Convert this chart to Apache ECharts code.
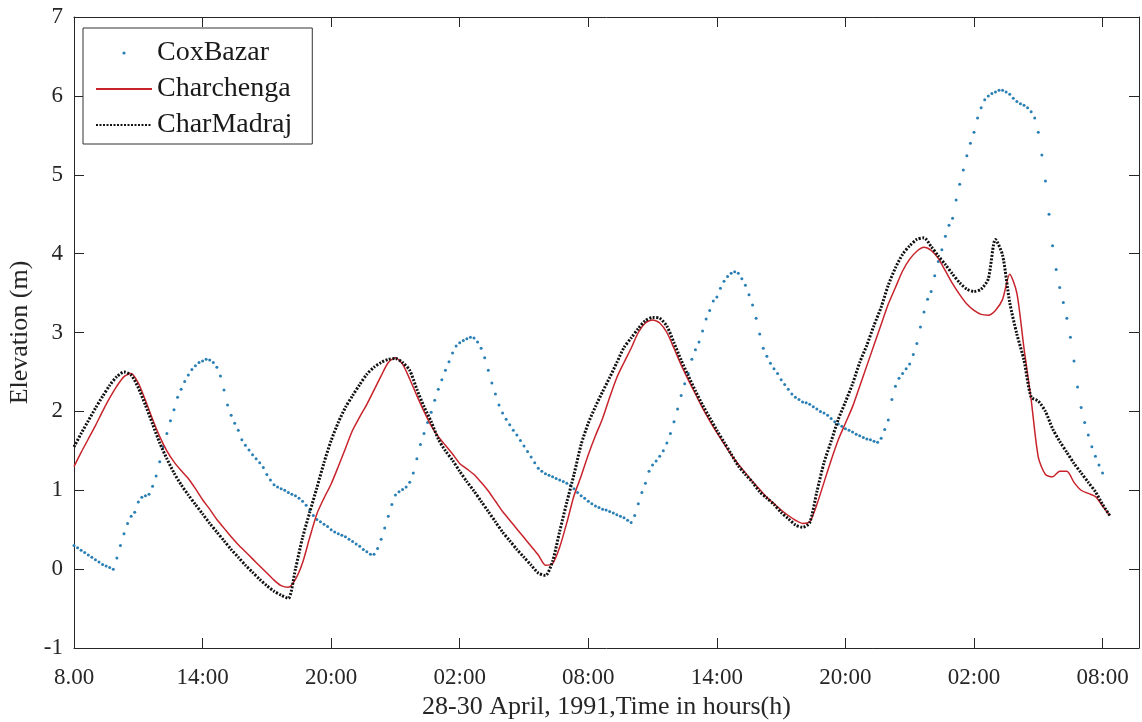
<!DOCTYPE html>
<html>
<head>
<meta charset="utf-8">
<script src="https://cdn.jsdelivr.net/npm/echarts@6/dist/echarts.min.js"></script>
<style>
  html, body { margin: 0; padding: 0; background: #fff; }
  #chart { width: 1142px; height: 722px; }
</style>
</head>
<body>
<div id="chart"></div>
<script>
// hours since 08:00, 28 April 1991
const tickLabels = ['8.00', '14:00', '20:00', '02:00', '08:00', '14:00', '20:00', '02:00', '08:00']

// CoxBazar, one value every 10 minutes from 08:00
const coxStep = 1 / 6
const coxBazar = [
  0.30, 0.27, 0.24, 0.21, 0.18, 0.15,
  0.12, 0.09, 0.06, 0.04, 0.02, 0.00,
  0.14, 0.30, 0.45, 0.58, 0.67, 0.72,
  0.85, 0.91, 0.93, 0.95, 1.05, 1.18,
  1.36, 1.55, 1.72, 1.88, 2.02, 2.18,
  2.28, 2.38, 2.46, 2.53, 2.58, 2.62,
  2.64, 2.66, 2.65, 2.62, 2.56, 2.45,
  2.27, 2.08, 1.95, 1.85, 1.76, 1.64,
  1.57, 1.51, 1.45, 1.40, 1.35, 1.29,
  1.20, 1.13, 1.07, 1.04, 1.02, 1.00,
  0.97, 0.95, 0.93, 0.90, 0.86, 0.81,
  0.75, 0.68, 0.63, 0.60, 0.57, 0.54,
  0.50, 0.47, 0.45, 0.43, 0.41, 0.38,
  0.35, 0.32, 0.29, 0.25, 0.22, 0.19,
  0.19, 0.26, 0.38, 0.52, 0.67, 0.82,
  0.94, 0.98, 1.01, 1.04, 1.10, 1.22,
  1.40, 1.58, 1.72, 1.86, 1.99, 2.14,
  2.28, 2.40, 2.52, 2.63, 2.74, 2.83,
  2.87, 2.90, 2.92, 2.94, 2.93, 2.88,
  2.80, 2.68, 2.52, 2.36, 2.22, 2.08,
  1.98, 1.90, 1.83, 1.76, 1.70, 1.63,
  1.56, 1.49, 1.42, 1.35, 1.28, 1.24,
  1.21, 1.19, 1.17, 1.15, 1.13, 1.11,
  1.09, 1.06, 1.02, 0.97, 0.93, 0.90,
  0.86, 0.83, 0.80, 0.78, 0.76, 0.75,
  0.73, 0.71, 0.69, 0.67, 0.65, 0.62,
  0.59, 0.68, 0.83, 0.97, 1.09, 1.24,
  1.32, 1.37, 1.43, 1.50, 1.60, 1.72,
  1.87, 2.03, 2.20, 2.35, 2.48, 2.66,
  2.78, 2.88, 3.02, 3.17, 3.28, 3.40,
  3.45, 3.56, 3.65, 3.71, 3.75, 3.77,
  3.75, 3.68, 3.60, 3.48, 3.35, 3.18,
  2.98, 2.80, 2.70, 2.61, 2.54, 2.48,
  2.40, 2.34, 2.28, 2.22, 2.18, 2.15,
  2.12, 2.11, 2.09, 2.06, 2.03, 2.00,
  1.98, 1.95, 1.91, 1.87, 1.84, 1.81,
  1.78, 1.76, 1.74, 1.71, 1.69, 1.67,
  1.65, 1.64, 1.62, 1.61, 1.66, 1.77,
  1.89, 2.15, 2.32, 2.42, 2.48, 2.54,
  2.60, 2.72, 2.86, 3.07, 3.26, 3.42,
  3.52, 3.72, 3.90, 4.05, 4.22, 4.36,
  4.45, 4.68, 4.88, 5.06, 5.24, 5.40,
  5.54, 5.72, 5.85, 5.95, 6.00, 6.03,
  6.05, 6.07, 6.07, 6.05, 6.02, 5.97,
  5.93, 5.90, 5.88, 5.85, 5.80, 5.72,
  5.54, 5.25, 4.92, 4.50, 4.10, 3.80,
  3.57, 3.38, 3.18, 2.94, 2.64, 2.31,
  2.05, 1.86, 1.70, 1.55, 1.43, 1.32,
  1.22
]

// Charchenga and CharMadraj, one value every 20 minutes from 08:00
const lineStep = 1 / 3
const charchenga = [
  1.30, 1.48, 1.65, 1.82, 2.00, 2.17, 2.32, 2.44, 2.48, 2.36, 2.14, 1.90,
  1.68, 1.50, 1.36, 1.25, 1.15, 1.02, 0.88, 0.76, 0.63, 0.52, 0.41, 0.31,
  0.22, 0.13, 0.04, -0.05, -0.14, -0.21, -0.23, -0.13, 0.08, 0.40, 0.70, 0.90,
  1.08, 1.30, 1.53, 1.76, 1.93, 2.09, 2.27, 2.45, 2.62, 2.68, 2.60, 2.41,
  2.20, 2.00, 1.82, 1.68, 1.57, 1.46, 1.34, 1.27, 1.20, 1.10, 0.99, 0.86,
  0.73, 0.62, 0.51, 0.40, 0.29, 0.18, 0.05, 0.07, 0.28, 0.59, 0.93, 1.18,
  1.45, 1.69, 1.91, 2.18, 2.43, 2.62, 2.80, 3.00, 3.12, 3.16, 3.12, 3.00,
  2.80, 2.59, 2.40, 2.22, 2.04, 1.88, 1.73, 1.59, 1.45, 1.33, 1.22, 1.11,
  1.01, 0.91, 0.83, 0.75, 0.68, 0.62, 0.58, 0.60, 0.82, 1.10, 1.38, 1.64,
  1.85, 2.06, 2.32, 2.58, 2.84, 3.10, 3.36, 3.57, 3.78, 3.93, 4.03, 4.08,
  4.04, 3.94, 3.78, 3.62, 3.48, 3.36, 3.28, 3.23, 3.22, 3.28, 3.42, 3.74,
  3.50, 2.80, 2.15, 1.42, 1.20, 1.17, 1.24, 1.24, 1.10, 1.00, 0.96, 0.92,
  0.80, 0.68
]
const charMadraj = [
  1.55, 1.72, 1.88, 2.04, 2.19, 2.33, 2.44, 2.50, 2.46, 2.30, 2.08, 1.84,
  1.60, 1.40, 1.22, 1.07, 0.94, 0.82, 0.70, 0.58, 0.47, 0.36, 0.25, 0.15,
  0.05, -0.04, -0.13, -0.21, -0.28, -0.33, -0.37, 0.00, 0.40, 0.72, 1.03, 1.35,
  1.63, 1.86, 2.05, 2.20, 2.34, 2.47, 2.56, 2.62, 2.66, 2.67, 2.62, 2.52,
  2.28, 2.06, 1.87, 1.65, 1.50, 1.38, 1.24, 1.11, 0.99, 0.86, 0.73, 0.60,
  0.47, 0.36, 0.25, 0.15, 0.05, -0.05, -0.08, 0.10, 0.48, 0.85, 1.20, 1.58,
  1.85, 2.06, 2.25, 2.43, 2.62, 2.81, 2.93, 3.05, 3.15, 3.19, 3.18, 3.08,
  2.87, 2.65, 2.45, 2.26, 2.08, 1.92, 1.76, 1.61, 1.46, 1.31, 1.20, 1.10,
  0.98, 0.90, 0.82, 0.72, 0.64, 0.56, 0.53, 0.59, 0.98, 1.35, 1.62, 1.90,
  2.12, 2.35, 2.62, 2.84, 3.09, 3.32, 3.60, 3.82, 3.99, 4.10, 4.18, 4.20,
  4.09, 3.97, 3.86, 3.74, 3.63, 3.55, 3.52, 3.55, 3.68, 4.18, 3.98, 3.38,
  2.98, 2.65, 2.18, 2.13, 2.00, 1.78, 1.62, 1.48, 1.34, 1.22, 1.10, 0.98,
  0.82, 0.68
]

const toPoints = (values, step) => values.map((v, i) => [i * step, v])

const font = 'Liberation Serif'
const axisColor = '#262626'

const chart = echarts.init(document.getElementById('chart'))

const xBase = {
  type: 'value',
  min: 0,
  max: 49.7,
  interval: 6,
  splitLine: { show: false },
  axisLine: { onZero: false, lineStyle: { color: axisColor, width: 1 } },
  axisTick: { inside: true, length: 10, lineStyle: { color: axisColor } },
}
const yBase = {
  type: 'value',
  min: -1,
  max: 7,
  interval: 1,
  splitLine: { show: false },
  axisLine: { show: true, onZero: false, lineStyle: { color: axisColor, width: 1 } },
  axisTick: { show: true, inside: true, length: 10, lineStyle: { color: axisColor } },
}

chart.setOption({
  animation: false,
  backgroundColor: '#fff',
  textStyle: { fontFamily: font },
  grid: { left: 74, right: 3, top: 17, bottom: 74, outerBoundsMode: 'none' },
  legend: {
    orient: 'vertical',
    left: 83,
    top: 28,
    padding: [11, 20, 5, 12],
    itemGap: 8,
    itemWidth: 56,
    itemHeight: 4,
    backgroundColor: '#fff',
    borderColor: '#333',
    borderWidth: 1,
    borderRadius: 0,
    textStyle: { fontFamily: font, fontSize: 28, color: '#1a1a1a' },
    data: [
      { name: 'CoxBazar' },
      { name: 'Charchenga', itemStyle: { opacity: 0 } },
      { name: 'CharMadraj', itemStyle: { opacity: 0 } },
    ],
  },
  xAxis: [
    {
      ...xBase,
      position: 'bottom',
      name: '28-30 April, 1991,Time in hours(h)',
      nameLocation: 'middle',
      nameGap: 46,
      nameTextStyle: { fontFamily: font, fontSize: 26, color: axisColor },
      axisLabel: {
        fontFamily: font,
        fontSize: 23,
        color: axisColor,
        margin: 18,
        showMaxLabel: false,
        formatter: (v) => (v % 6 === 0 ? tickLabels[v / 6] : ''),
      },
    },
    {
      ...xBase,
      position: 'top',
      axisLabel: { show: false },
    },
  ],
  yAxis: [
    {
      ...yBase,
      position: 'left',
      name: 'Elevation (m)',
      nameLocation: 'middle',
      nameGap: 36,
      nameTextStyle: { fontFamily: font, fontSize: 26, color: axisColor },
      axisLabel: { fontFamily: font, fontSize: 23, color: axisColor, margin: 11 },
    },
    {
      ...yBase,
      position: 'right',
      axisLabel: { show: false },
    },
  ],
  series: [
    {
      name: 'CoxBazar',
      type: 'line',
      data: toPoints(coxBazar, coxStep),
      symbol: 'circle',
      symbolSize: 3,
      showSymbol: true,
      showAllSymbol: true,
      itemStyle: { color: '#2a7fb4' },
      lineStyle: { width: 0, opacity: 0 },
      z: 2,
    },
    {
      name: 'Charchenga',
      type: 'line',
      data: toPoints(charchenga, lineStep),
      symbol: 'none',
      smooth: 0.25,
      itemStyle: { color: '#c8232b' },
      lineStyle: { color: '#c8232b', width: 1.5 },
      z: 3,
    },
    {
      name: 'CharMadraj',
      type: 'line',
      data: toPoints(charMadraj, lineStep),
      symbol: 'none',
      smooth: 0.25,
      itemStyle: { color: '#111' },
      lineStyle: { color: '#111', width: 3, type: [2, 1.5] },
      z: 4,
    },
  ],
})
</script>
</body>
</html>
